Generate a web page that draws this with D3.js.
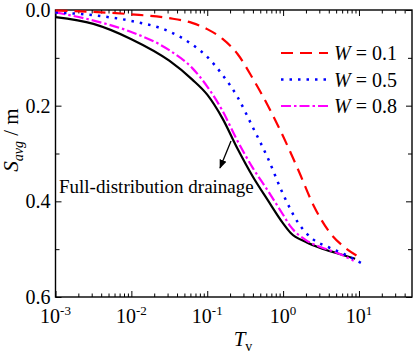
<!DOCTYPE html>
<html>
<head>
<meta charset="utf-8">
<script src="https://cdn.jsdelivr.net/npm/d3@7"></script>
<style>
  body { margin: 0; background: #fff; }
  svg { display: block; font-family: "Liberation Serif", "Times New Roman", serif; }
</style>
</head>
<body>
<div id="main"></div>
<script>
// time factor (x) and average settlement (y)
const fullT = [0.001, 0.00316, 0.01, 0.0316, 0.0631, 0.1, 0.158, 0.251, 0.398, 0.631, 1, 1.26, 2, 3.16, 5.01, 8.9];
const fullS = [0.015, 0.029, 0.061, 0.106, 0.145, 0.177, 0.226, 0.29, 0.348, 0.398, 0.446, 0.466, 0.485, 0.498, 0.508, 0.52];

const w08T = [0.001, 0.00316, 0.01, 0.0316, 0.0631, 0.1, 0.158, 0.251, 0.398, 0.631, 1, 1.26, 2, 3.16, 5.01, 8.5];
const w08S = [0.005, 0.022, 0.046, 0.084, 0.121, 0.16, 0.21, 0.274, 0.33, 0.378, 0.428, 0.453, 0.481, 0.496, 0.507, 0.524];

const w05T = [0.001, 0.00316, 0.01, 0.0316, 0.0631, 0.1, 0.158, 0.251, 0.398, 0.631, 1, 1.58, 2.51, 3.98, 6.31, 11];
const w05S = [0.005, 0.011, 0.023, 0.045, 0.072, 0.098, 0.135, 0.182, 0.245, 0.31, 0.385, 0.445, 0.48, 0.496, 0.51, 0.53];

const w01T = [0.001, 0.00316, 0.01, 0.0316, 0.0631, 0.1, 0.158, 0.251, 0.398, 0.631, 1, 1.58, 2.51, 3.98, 6.31, 10.2];
const w01S = [0.001, 0.004, 0.009, 0.017, 0.027, 0.04, 0.06, 0.092, 0.143, 0.2, 0.264, 0.334, 0.408, 0.462, 0.495, 0.517];

const xMajor = [0.001, 0.01, 0.1, 1, 10];
const xExp = ['-3', '-2', '-1', '0', '1'];
const yMajor = [0, 0.2, 0.4, 0.6];
const yMinor = [0.1, 0.3, 0.5];
const legendLabels = ['0.1', '0.5', '0.8'];

const width = 415;
const height = 353;
const plotLeft = 55.5;
const plotRight = 412;
const plotTop = 10;
const plotBottom = 297;

const x = d3.scaleLog().domain([0.001, 50]).range([plotLeft, plotRight]);
const y = d3.scaleLinear().domain([0, 0.6]).range([plotTop, plotBottom]);

const xMinor = [];
for (let d = -3; d <= 1; d += 1) {
  for (let k = 2; k <= 9; k += 1) {
    const v = k * 10 ** d;
    if (v < 50) xMinor.push(v);
  }
}

const svg = d3.select('#main').append('svg').attr('width', width).attr('height', height);

// ticks on all four sides, pointing inward
function addAxis(axis, tx, ty) {
  const g = svg.append('g').attr('transform', `translate(${tx},${ty})`).call(axis);
  g.select('.domain').remove();
  g.selectAll('line').attr('stroke', '#000').attr('stroke-width', 1);
  g.selectAll('text').remove();
}
addAxis(d3.axisBottom(x).tickValues(xMajor).tickSize(-6), 0, plotBottom);
addAxis(d3.axisBottom(x).tickValues(xMinor).tickSize(-3.5), 0, plotBottom);
addAxis(d3.axisTop(x).tickValues(xMajor).tickSize(-6), 0, plotTop);
addAxis(d3.axisTop(x).tickValues(xMinor).tickSize(-3.5), 0, plotTop);
addAxis(d3.axisLeft(y).tickValues(yMajor).tickSize(-6), plotLeft, 0);
addAxis(d3.axisLeft(y).tickValues(yMinor).tickSize(-4), plotLeft, 0);
addAxis(d3.axisRight(y).tickValues(yMajor).tickSize(-6), plotRight, 0);
addAxis(d3.axisRight(y).tickValues(yMinor).tickSize(-4), plotRight, 0);

svg.append('rect')
  .attr('x', plotLeft).attr('y', plotTop)
  .attr('width', plotRight - plotLeft).attr('height', plotBottom - plotTop)
  .attr('fill', 'none').attr('stroke', '#000').attr('stroke-width', 1.4);

// tick labels
svg.selectAll('.ylab')
  .data(yMajor)
  .enter()
  .append('text')
  .attr('x', plotLeft - 5)
  .attr('y', (d) => y(d) + 7)
  .attr('text-anchor', 'end')
  .attr('font-size', 20)
  .text((d) => d.toFixed(1));

const xl = svg.selectAll('.xlab')
  .data(xMajor)
  .enter()
  .append('text')
  .attr('x', (d) => x(d))
  .attr('y', 323)
  .attr('text-anchor', 'middle')
  .attr('font-size', 20);
xl.append('tspan').text('10');
xl.append('tspan').attr('dy', -8).attr('font-size', 13).text((d, i) => xExp[i]);

// axis titles
const xt = svg.append('text').attr('x', 243).attr('y', 346).attr('text-anchor', 'middle').attr('font-size', 21);
xt.append('tspan').attr('font-style', 'italic').text('T');
xt.append('tspan').attr('dy', 5).attr('font-size', 14).text('v');

const yt = svg.append('text')
  .attr('transform', 'translate(18,140) rotate(-90)')
  .attr('text-anchor', 'middle')
  .attr('font-size', 21);
yt.append('tspan').attr('font-style', 'italic').text('S');
yt.append('tspan').attr('dy', 5).attr('font-size', 14).attr('font-style', 'italic').text('avg');
yt.append('tspan').attr('dy', -5).text(' / m');

// curves
const line = d3.line()
  .x((d) => x(d[0]))
  .y((d) => y(d[1]))
  .curve(d3.curveMonotoneX);

const series = [
  { t: fullT, s: fullS, color: '#000000', dash: null, w: 2.2 },
  { t: w08T, s: w08S, color: '#ff00ff', dash: '10,3,2.5,3', w: 2.2 },
  { t: w05T, s: w05S, color: '#0000ff', dash: '2.5,6', w: 2.5 },
  { t: w01T, s: w01S, color: '#ff0000', dash: '12,7', w: 2.2 },
];

svg.selectAll('.curve')
  .data(series)
  .enter()
  .append('path')
  .attr('class', 'curve')
  .attr('fill', 'none')
  .attr('stroke', (d) => d.color)
  .attr('stroke-width', (d) => d.w)
  .attr('stroke-dasharray', (d) => d.dash)
  .attr('d', (d) => line(d.t.map((v, i) => [v, d.s[i]])));

// legend
const legend = svg.append('g');
const legendSeries = [series[3], series[2], series[1]];
legendSeries.forEach((d, i) => {
  const ly = 53 + i * 26.5;
  legend.append('line')
    .attr('x1', 281).attr('x2', 328)
    .attr('y1', ly).attr('y2', ly)
    .attr('stroke', d.color)
    .attr('stroke-width', d.w)
    .attr('stroke-dasharray', d.dash);
  const t = legend.append('text').attr('x', 334).attr('y', ly + 7).attr('font-size', 20);
  t.append('tspan').attr('font-style', 'italic').text('W');
  t.append('tspan').text(` = ${legendLabels[i]}`);
});

// annotation with arrow
svg.append('defs').append('marker')
  .attr('id', 'arr')
  .attr('viewBox', '0 0 10 10')
  .attr('refX', 9).attr('refY', 5)
  .attr('markerWidth', 7).attr('markerHeight', 7)
  .attr('orient', 'auto')
  .append('path')
  .attr('d', 'M0,1 L10,5 L0,9 Z')
  .attr('fill', '#000');

svg.append('line')
  .attr('x1', 231).attr('y1', 141)
  .attr('x2', 220).attr('y2', 168)
  .attr('stroke', '#000').attr('stroke-width', 1.3)
  .attr('marker-end', 'url(#arr)');

svg.append('text')
  .attr('x', 59).attr('y', 193)
  .attr('font-size', 19)
  .text('Full-distribution drainage');
</script>
</body>
</html>
